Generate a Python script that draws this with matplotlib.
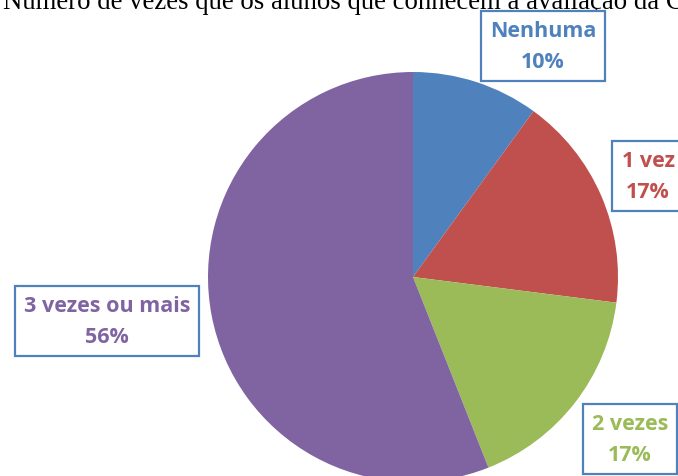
import matplotlib
matplotlib.use('Agg')
import matplotlib.pyplot as plt

labels = ['Nenhuma', '1 vez', '2 vezes', '3 vezes ou mais']
values = [10, 17, 17, 56]
colors = ['#4F81BD', '#C0504D', '#9BBB59', '#8064A2']
title = 'Número de vezes que os alunos que conhecem a avaliação da CPA'

W, H = 678, 477
fig = plt.figure(figsize=(W / 100, H / 100), dpi=100)
ax = fig.add_axes([0, 0, 1, 1])

ax.pie(values, colors=colors, startangle=90, counterclock=False,
       center=(413, H - 278), radius=205,
       wedgeprops=dict(linewidth=0))
ax.set_xlim(0, W)
ax.set_ylim(0, H)
ax.set_aspect('equal')
ax.set_axis_off()

# title, cut off at the top like the source image
ax.text(3, H - 9, title, family='Liberation Serif', fontsize=19.3,
        va='baseline', ha='left', color='black')

# label boxes (x centre, y centre in pixels from top)
label_pos = [(543, 47), (648, 177), (630, 440), (107, 322)]
for lab, v, c, (x, y) in zip(labels, values, colors, label_pos):
    ax.text(x, H - y, f'{lab}\n{v}%', ha='center', va='center',
            family='Open Sans', fontweight='bold', fontsize=15.5, color=c,
            linespacing=1.6,
            bbox=dict(boxstyle='square,pad=0.42', fc='white',
                      ec='#4F81BD', lw=1.6))

fig.savefig('out.png', dpi=100)
